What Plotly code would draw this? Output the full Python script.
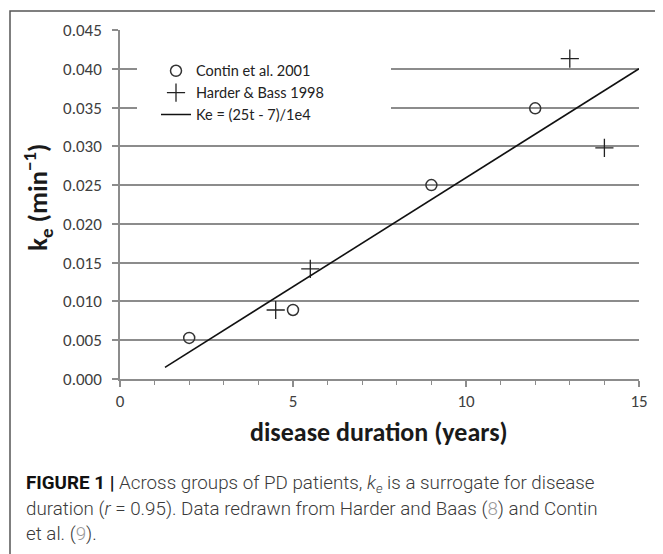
import plotly.graph_objects as go

# ---- data ----
contin_t = [2, 5, 9, 12]
contin_ke = [0.0053, 0.0089, 0.0250, 0.0349]
harder_t = [4.5, 5.5, 13, 14]
harder_ke = [0.0089, 0.0142, 0.0413, 0.0298]
fit_t = [1.3, 15]
fit_ke = [0.0015, 0.0400]
x_ticks = [0, 5, 10, 15]
y_ticks = [0.000, 0.005, 0.010, 0.015, 0.020, 0.025, 0.030, 0.035, 0.040, 0.045]

OFF = 8  # page body margin
W, H = 663 - OFF, 554 - OFF
# plot area in window pixels: x 120..639, y 28..379
L, T = 120 - OFF, 28 - OFF
R = W - (639 - OFF)
B = H - (379 - OFF)
PW, PH = W - L - R, H - T - B


def px(x):  # window pixel x -> paper
    return (x - OFF - L) / PW


def py(y):  # window pixel y -> paper
    return (H - B - (y - OFF)) / PH


FONT = "Carlito, Lato, sans-serif"
GRID = "#8c8c8c"

fig = go.Figure()
fig.add_trace(go.Scatter(
    x=contin_t, y=contin_ke, mode="markers", name="Contin et al. 2001",
    marker=dict(symbol="circle-open", size=11, color="#333333", line=dict(width=1.5, color="#333333")),
))
fig.add_trace(go.Scatter(
    x=harder_t, y=harder_ke, mode="markers", name="Harder & Bass 1998",
    marker=dict(symbol="cross-thin-open", size=13, color="#222222", line=dict(width=1.3, color="#222222")),
))
fig.add_trace(go.Scatter(
    x=fit_t, y=fit_ke, mode="lines", name="Ke = (25t - 7)/1e4",
    line=dict(color="#111111", width=1.6),
))

shapes = [
    # legend white background covering gridlines
    dict(type="rect", xref="paper", yref="paper", layer="above",
         x0=px(137), x1=px(391), y0=py(125), y1=py(45),
         fillcolor="white", line=dict(width=0)),
    # outer frame (top and left visible)
    dict(type="rect", xref="paper", yref="paper", layer="below",
         x0=px(10), x1=px(680), y0=py(580), y1=py(9),
         fillcolor="rgba(0,0,0,0)", line=dict(color="#555555", width=1.5)),
]

annotations = [
    dict(text="<b>k<sub>e</sub> (min<sup>−1</sup>)</b>", textangle=-90,
         xref="paper", yref="paper", x=px(38), y=py(196), showarrow=False,
         xanchor="center", yanchor="middle",
         font=dict(family=FONT, size=27, color="#1a1a1a")),
    dict(text="<b>disease duration (years)</b>",
         xref="paper", yref="paper", x=px(379), y=py(432), showarrow=False,
         xanchor="center", yanchor="middle",
         font=dict(family=FONT, size=26, color="#1a1a1a")),
]

cap_font = dict(family="Roboto, 'Liberation Sans', sans-serif", size=18.8, color="#3a3a3a", weight=300)
cap_lines = [
    "<b><span style='color:#111'>FIGURE 1 |</span></b> Across groups of PD patients, <i>k<sub>e</sub></i> is a surrogate for disease",
    "duration (<i>r</i> = 0.95). Data redrawn from Harder and Baas (<span style='color:#999'>8</span>) and Contin",
    "et al. (<span style='color:#999'>9</span>).",
]
cap_y = [485, 510, 535]
for txt, yy in zip(cap_lines, cap_y):
    annotations.append(dict(text=txt, xref="paper", yref="paper", x=px(24), y=py(yy),
                            xanchor="left", yanchor="middle", showarrow=False,
                            align="left", font=cap_font))

fig.update_layout(
    width=W, height=H,
    margin=dict(l=L, r=R, t=T, b=B, pad=0),
    paper_bgcolor="white", plot_bgcolor="white",
    showlegend=True,
    legend=dict(x=px(156), y=py(53), xanchor="left", yanchor="top",
                bgcolor="rgba(0,0,0,0)", borderwidth=0,
                font=dict(family="Lato, Carlito, sans-serif", size=14.5, color="#222222"),
                tracegroupgap=0, itemwidth=30),
    shapes=shapes,
    annotations=annotations,
)

fig.update_xaxes(
    range=[0, 15], tickvals=x_ticks, ticktext=[str(v) for v in x_ticks],
    showgrid=False, zeroline=False,
    showline=True, linecolor=GRID, linewidth=1.5,
    ticks="outside", ticklen=6, tickwidth=1.5, tickcolor=GRID,
    minor=dict(dtick=1, ticks="outside", ticklen=4, tickwidth=1.2, tickcolor=GRID, showgrid=False),
    ticklabelstandoff=0,
    tickfont=dict(family=FONT, size=17, color="#404040"),
)
fig.update_yaxes(
    range=[0, 0.045], tickvals=y_ticks, ticktext=[f"{v:.3f}" for v in y_ticks],
    showgrid=True, gridcolor=GRID, gridwidth=1.5, zeroline=False,
    showline=True, linecolor=GRID, linewidth=1.5,
    ticks="outside", ticklen=6, tickwidth=1.5, tickcolor=GRID,
    ticklabelstandoff=7,
    tickfont=dict(family=FONT, size=17, color="#404040"),
)

fig.write_html("out.html")
